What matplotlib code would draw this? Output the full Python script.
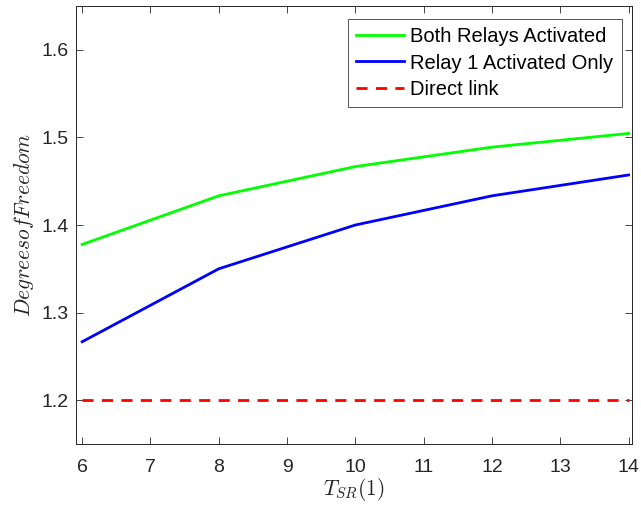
import numpy as np
import matplotlib.pyplot as plt

plt.rcParams['font.family'] = ['Liberation Sans', 'DejaVu Sans']
plt.rcParams['mathtext.fontset'] = 'cm'

t_sr = [6, 8, 10, 12, 14]
dof_both = [1.3778, 1.4333, 1.4667, 1.4889, 1.5045]
dof_relay1 = [1.2667, 1.3500, 1.4000, 1.4333, 1.4571]
dof_direct = [1.2, 1.2, 1.2, 1.2, 1.2]

axis_col = '#262626'

fig = plt.figure(figsize=(6.41, 5.12), dpi=100)
ax = fig.add_axes([76 / 641, 1 - 444 / 512, 556 / 641, 438 / 512])

ax.plot(t_sr, dof_both, color='#00ff00', lw=2, label='Both Relays Activated')
ax.plot(t_sr, dof_relay1, color='#0000ff', lw=2, label='Relay 1 Activated Only')
ax.plot(t_sr, dof_direct, color='#ff0000', lw=2, linestyle=(0, (4, 3)),
        label='Direct link')

ax.set_xlim(5.91, 14.05)
ax.set_ylim(1.15, 1.65)
ax.set_xticks(np.arange(6, 15, 1))
ax.set_yticks([1.2, 1.3, 1.4, 1.5, 1.6])

ax.tick_params(direction='in', top=True, right=True, length=5, width=0.6,
               colors=axis_col, labelsize=14)
ax.tick_params(axis='x', pad=11)
ax.tick_params(axis='y', pad=5)
for sp in ax.spines.values():
    sp.set_color(axis_col)
    sp.set_linewidth(0.7)

ax.set_xlabel(r'$T_{SR}(1)$', fontsize=15.5, color=axis_col, labelpad=0)
ax.set_ylabel(r'$Degrees of Freedom$', fontsize=15.5, color=axis_col, labelpad=4)

leg = ax.legend(loc='upper right', bbox_to_anchor=(1 - 10 / 556, 1 - 13 / 438),
                fontsize=14.5, frameon=True, fancybox=False,
                edgecolor=axis_col, borderpad=0.42, labelspacing=0.35,
                handlelength=2.4, handletextpad=0.3, borderaxespad=0)
leg.get_frame().set_linewidth(0.7)

fig.savefig('out.png', dpi=100)
